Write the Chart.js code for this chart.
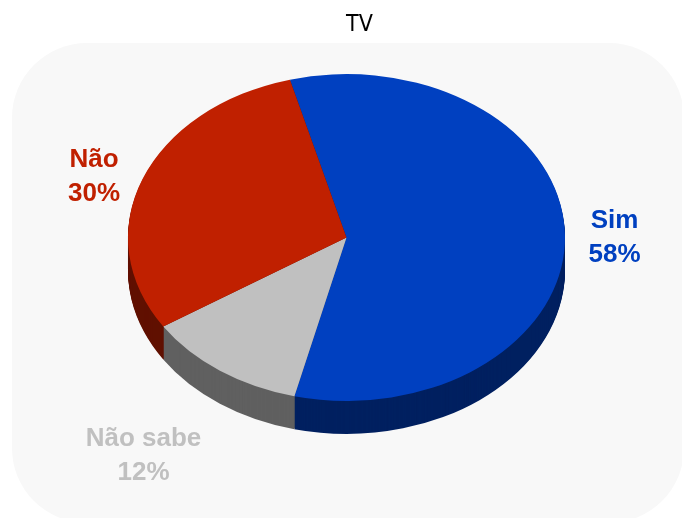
<!DOCTYPE html>
<html lang="pt">
<head>
  <meta charset="UTF-8">
  <title>TV</title>
  <script src="https://cdn.jsdelivr.net/npm/chart.js"></script>
  <style>
    body { margin: 0; background: #fff; }
    .wrap { position: relative; width: 682px; height: 518px; }
  </style>
</head>
<body>
  <div class="wrap">
    <canvas id="tvChart"></canvas>
  </div>

<script>
  // dados
  const titulo = 'TV';
  const categorias = ['Sim', 'Não sabe', 'Não'];
  const valores = [58, 12, 30];
  const cores = ['#0040C0', '#C0C0C0', '#C02000'];
  const coresLado = ['#002060', '#606060', '#601000'];

  const pie3d = {
    id: 'pie3d',
    beforeDraw(chart, args, opts) {
      const ctx = chart.ctx;
      ctx.save();
      ctx.fillStyle = opts.panel;
      ctx.beginPath();
      ctx.roundRect(12, 43, 672, 480, 75);
      ctx.fill();
      ctx.fillStyle = '#000';
      ctx.font = "23px 'Liberation Sans Narrow', 'DejaVu Sans Condensed', sans-serif";
      ctx.textAlign = 'center';
      ctx.textBaseline = 'alphabetic';
      ctx.fillText(titulo, 359.5, 31);
      ctx.restore();
    },
    beforeDatasetsDraw(chart, args, opts) {
      const ctx = chart.ctx;
      const arcs = chart.getDatasetMeta(0).data;
      const cx = arcs[0].x, cy = arcs[0].y;
      // lateral do bolo, de baixo pra cima
      for (let d = opts.depth; d >= 1; d--) {
        arcs.forEach((arc, i) => {
          ctx.save();
          ctx.translate(cx, cy + d);
          ctx.scale(1, opts.tilt);
          ctx.translate(-cx, -cy);
          ctx.beginPath();
          ctx.moveTo(arc.x, arc.y);
          ctx.arc(arc.x, arc.y, arc.outerRadius, arc.startAngle, arc.endAngle);
          ctx.closePath();
          ctx.fillStyle = coresLado[i];
          ctx.fill();
          ctx.restore();
        });
      }
      ctx.save();
      ctx.translate(cx, cy);
      ctx.scale(1, opts.tilt);
      ctx.translate(-cx, -cy);
    },
    afterDatasetsDraw(chart) {
      chart.ctx.restore();
    },
    afterDraw(chart, args, opts) {
      const ctx = chart.ctx;
      const arcs = chart.getDatasetMeta(0).data;
      const total = valores.reduce((a, b) => a + b, 0);
      ctx.save();
      ctx.font = "bold 26px 'Liberation Sans', Arial, sans-serif";
      ctx.textAlign = 'center';
      ctx.textBaseline = 'middle';
      arcs.forEach((arc, i) => {
        const mid = (arc.startAngle + arc.endAngle) / 2;
        const [fx, fy] = opts.labelDist[i];
        const x = arc.x + Math.cos(mid) * arc.outerRadius * fx;
        const y = arc.y + Math.sin(mid) * arc.outerRadius * opts.tilt * fy;
        const pct = Math.round(valores[i] / total * 100) + '%';
        ctx.fillStyle = cores[i];
        ctx.fillText(categorias[i], x, y - 17);
        ctx.fillText(pct, x, y + 17);
      });
      ctx.restore();
    }
  };

  const ctx = document.getElementById('tvChart').getContext('2d');
  const tvChart = new Chart(ctx, {
    type: 'pie',
    data: {
      labels: categorias,
      datasets: [{
        data: valores,
        backgroundColor: cores,
        borderWidth: 0
      }]
    },
    plugins: [pie3d],
    options: {
      responsive: true,
      maintainAspectRatio: false,
      animation: false,
      rotation: -15,
      radius: 218.5,
      layout: {
        padding: { left: 128, right: 117, top: 20, bottom: 63 }
      },
      plugins: {
        legend: { display: false },
        tooltip: { enabled: false },
        title: { display: false },
        pie3d: {
          panel: '#f8f8f8',
          depth: 33,
          tilt: 0.748,
          labelDist: [[1.2265, 0], [1.604, 1.64], [1.2378, 1.033]]
        }
      }
    }
  });
</script>
</body>
</html>
